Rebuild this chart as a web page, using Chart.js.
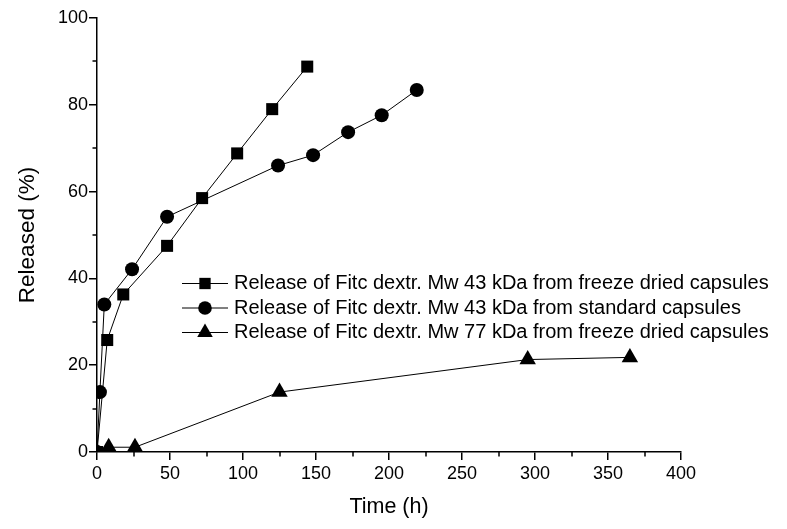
<!DOCTYPE html>
<html>
<head>
<meta charset="utf-8">
<script src="https://cdn.jsdelivr.net/npm/chart.js@4.4.1/dist/chart.umd.min.js"></script>
<style>
html,body{margin:0;padding:0;background:#fff;}
#wrap{width:787px;height:529px;position:relative;}
</style>
</head>
<body>
<div id="wrap"><canvas id="c"></canvas></div>
<script>
// ---- data ----
const timeFD43 = [0, 7, 18, 48, 72, 96, 120, 144];
const relFD43  = [0, 25.8, 36.3, 47.5, 58.5, 68.8, 79.0, 88.8];

const timeStd43 = [0, 2, 5, 24, 48, 124, 148, 172, 195, 219];
const relStd43  = [0, 13.8, 34.0, 42.1, 54.2, 66.0, 68.4, 73.7, 77.6, 83.4];

const timeFD77 = [0, 8, 26, 125, 295, 365];
const relFD77  = [0, 1.1, 1.1, 13.8, 21.3, 21.8];

const seriesLabels = [
  'Release of Fitc dextr. Mw 43 kDa from freeze dried capsules',
  'Release of Fitc dextr. Mw 43 kDa from standard capsules',
  'Release of Fitc dextr. Mw 77 kDa from freeze dried capsules'
];
const xTicks = [0, 50, 100, 150, 200, 250, 300, 350, 400];
const yTicks = [0, 20, 40, 60, 80, 100];
const xMinor = [25, 75, 125, 175, 225, 275, 325, 375];
const yMinor = [10, 30, 50, 70, 90];
const xTitle = 'Time (h)';
const yTitle = 'Released (%)';

const FONT = '"Liberation Sans", Arial, Helvetica, sans-serif';

function pts(xs, ys){ return xs.map((x,i)=>({x:x, y:ys[i]})); }

const legendRadius = [8, 6.8, 9];

const minorTicksPlugin = {
  id: 'minorTicks',
  afterDraw(chart){
    const ctx = chart.ctx, xs = chart.scales.x, ys = chart.scales.y;
    ctx.save();
    ctx.strokeStyle = '#000';
    ctx.lineWidth = 1.5;
    ctx.beginPath();
    xMinor.forEach(v => {
      const p = Math.round(xs.getPixelForValue(v));
      ctx.moveTo(p, xs.top); ctx.lineTo(p, xs.top + 4.5);
    });
    yMinor.forEach(v => {
      const p = Math.round(ys.getPixelForValue(v));
      ctx.moveTo(ys.right, p); ctx.lineTo(ys.right - 4.5, p);
    });
    ctx.stroke();
    ctx.restore();
  }
};

const legendPlugin = {
  id: 'customLegend',
  afterDraw(chart){
    const ctx = chart.ctx;
    const x0 = 182, x1 = 228, xm = 205, xt = 234, y0 = 283.5, dy = 24.5;
    chart.data.datasets.forEach((ds, i) => {
      const y = y0 + i * dy;
      ctx.save();
      ctx.strokeStyle = '#000';
      ctx.fillStyle = '#000';
      ctx.lineWidth = 1;
      ctx.beginPath();
      ctx.moveTo(x0, y); ctx.lineTo(x1, y);
      ctx.stroke();
      Chart.helpers.drawPoint(ctx, {pointStyle: ds.pointStyle, radius: legendRadius[i], borderWidth: 0, rotation: 0}, xm, y);
      ctx.font = '20px ' + FONT;
      ctx.textBaseline = 'middle';
      ctx.textAlign = 'left';
      ctx.fillText(ds.label, xt, y);
      ctx.restore();
    });
  }
};

const common = {
  showLine: true,
  borderColor: '#000',
  borderWidth: 1,
  pointBackgroundColor: '#000',
  pointBorderColor: '#000',
  pointBorderWidth: 0,
  pointHoverRadius: 0,
  clip: 0,
  tension: 0
};

new Chart(document.getElementById('c'), {
  type: 'scatter',
  data: {
    datasets: [
      Object.assign({label: seriesLabels[0], data: pts(timeFD43, relFD43), pointStyle: 'rect', pointRadius: 8.5, order: 1}, common),
      Object.assign({label: seriesLabels[1], data: pts(timeStd43, relStd43), pointStyle: 'circle', pointRadius: 7, order: 0}, common),
      Object.assign({label: seriesLabels[2], data: pts(timeFD77, relFD77), pointStyle: 'triangle', pointRadius: 9.5, order: 2}, common)
    ]
  },
  options: {
    responsive: true,
    maintainAspectRatio: false,
    animation: false,
    devicePixelRatio: 1,
    layout: { padding: { top: 18, right: 106, left: 0, bottom: 0 } },
    plugins: { legend: { display: false }, tooltip: { enabled: false } },
    scales: {
      x: {
        type: 'linear',
        min: 0, max: 400,
        afterBuildTicks: s => { s.ticks = xTicks.map(v => ({value: v})); },
        afterFit: s => { s.height = 77; },
        grid: { display: true, drawOnChartArea: false, drawTicks: true, tickLength: 8, color: '#000', lineWidth: 1.5 },
        border: { display: true, color: '#000', width: 1.5 },
        ticks: { color: '#000', font: { family: FONT, size: 18 }, padding: 3, maxRotation: 0, autoSkip: false },
        title: { display: true, text: xTitle, color: '#000', font: { family: FONT, size: 21.5 }, padding: { top: 0, bottom: 9 } }
      },
      y: {
        type: 'linear',
        min: 0, max: 100,
        afterBuildTicks: s => { s.ticks = yTicks.map(v => ({value: v})); },
        afterFit: s => { s.width = 97; },
        grid: { display: true, drawOnChartArea: false, drawTicks: true, tickLength: 8, color: '#000', lineWidth: 1.5 },
        border: { display: true, color: '#000', width: 1.5 },
        ticks: { color: '#000', font: { family: FONT, size: 18 }, padding: 1, autoSkip: false },
        title: { display: true, text: yTitle, color: '#000', font: { family: FONT, size: 22.5 }, padding: { top: 14, bottom: 0 } }
      }
    }
  },
  plugins: [minorTicksPlugin, legendPlugin]
});
</script>
</body>
</html>
